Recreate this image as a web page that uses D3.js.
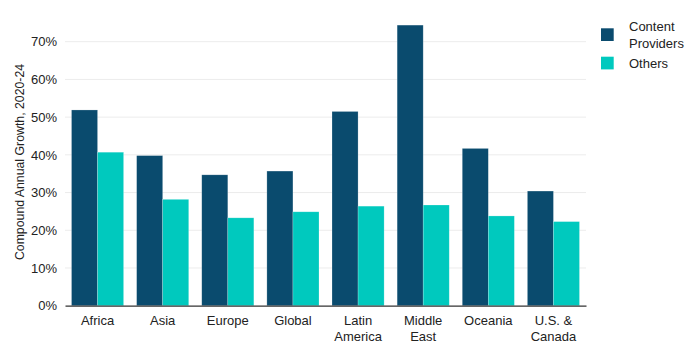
<!DOCTYPE html>
<html>
<head>
<meta charset="utf-8">
<script src="https://cdn.jsdelivr.net/npm/d3@7"></script>
<style>
html,body{margin:0;padding:0;background:#fff;}
svg{display:block;font-family:"Liberation Sans",Arial,Helvetica,sans-serif;}
</style>
</head>
<body>
<svg id="chart" width="700" height="355"></svg>
<script>
const categories = [["Africa"],["Asia"],["Europe"],["Global"],["Latin","America"],["Middle","East"],["Oceania"],["U.S. &","Canada"]];
const seriesNames = [["Content","Providers"],["Others"]];
const contentProviders = [51.9, 39.8, 34.7, 35.7, 51.5, 74.4, 41.7, 30.4];
const others = [40.7, 28.2, 23.3, 24.9, 26.4, 26.7, 23.8, 22.3];
const yTicks = [0,10,20,30,40,50,60,70];
const colors = ["#0a4b6e","#00c9be"];
const yTitle = "Compound Annual Growth, 2020-24";

const svg = d3.select("#chart");
const m = {left:65, right:114, top:20, bottom:49.3};
const W = 700, H = 355;
const x0 = d3.scaleBand().domain(d3.range(categories.length)).range([m.left, W-m.right]).paddingInner(0.2).paddingOuter(0.1);
const x1 = d3.scaleBand().domain([0,1]).range([0, x0.bandwidth()]);
const y = d3.scaleLinear().domain([0,70]).range([305.7, 41.7]);

// gridlines
svg.append("g").selectAll("line").data(yTicks.filter(d=>d>0)).join("line")
  .attr("x1", m.left).attr("x2", W-m.right)
  .attr("y1", d=>y(d)).attr("y2", d=>y(d))
  .attr("stroke","#ececec").attr("stroke-width",1);

// y axis labels
const yAxis = d3.axisLeft(y).tickValues(yTicks).tickFormat(d=>d+"%").tickSize(0).tickPadding(8);
const gy = svg.append("g").attr("transform",`translate(${m.left},0)`).call(yAxis);
gy.select(".domain").remove();
gy.selectAll("text").attr("font-size",13).attr("fill","#222").attr("font-family","Liberation Sans, Arial, sans-serif");

// bars
const data = [contentProviders, others];
const groups = svg.append("g").selectAll("g").data(categories).join("g")
  .attr("transform",(d,i)=>`translate(${x0(i)},0)`);
groups.selectAll("rect").data((d,i)=>[0,1].map(s=>({s, v:data[s][i]}))).join("rect")
  .attr("x", d=>x1(d.s)).attr("width", x1.bandwidth())
  .attr("y", d=>y(d.v)).attr("height", d=>y(0)-y(d.v))
  .attr("fill", d=>colors[d.s])
  .attr("stroke", "rgba(255,255,255,0.35)").attr("stroke-width",0.6);

// x axis
const xAxis = d3.axisBottom(x0).tickSize(0).tickFormat("");
const gx = svg.append("g").attr("transform",`translate(0,${y(0)})`).call(xAxis);
gx.select(".domain").attr("stroke","#333").attr("stroke-width",1.2);
const labels = svg.append("g").selectAll("text").data(categories).join("text")
  .attr("x",(d,i)=>x0(i)+x0.bandwidth()/2)
  .attr("y", y(0)+19.5)
  .attr("text-anchor","middle").attr("font-size",13).attr("fill","#222");
labels.selectAll("tspan").data(d=>d).join("tspan")
  .attr("x", function(){return this.parentNode.getAttribute("x");})
  .attr("dy",(d,i)=>i===0?0:16).text(d=>d);

// y title
svg.append("text").attr("transform",`translate(24,${162}) rotate(-90)`)
  .attr("text-anchor","middle").attr("font-size",12.3).attr("fill","#222").text(yTitle);

// legend
const legY = [28.3, 56.7];
const leg = svg.append("g").selectAll("g").data(seriesNames).join("g");
leg.append("rect").attr("x",601).attr("y",(d,i)=>legY[i]).attr("width",12.7).attr("height",12.7)
  .attr("fill",(d,i)=>colors[i]);
leg.append("text").attr("x",629).attr("y",(d,i)=>i===0?31.3:68)
  .attr("font-size",13).attr("fill","#222")
  .selectAll("tspan").data(d=>d).join("tspan").attr("x",629).attr("dy",(d,i)=>i===0?0:16.6).text(d=>d);
</script>
</body>
</html>
